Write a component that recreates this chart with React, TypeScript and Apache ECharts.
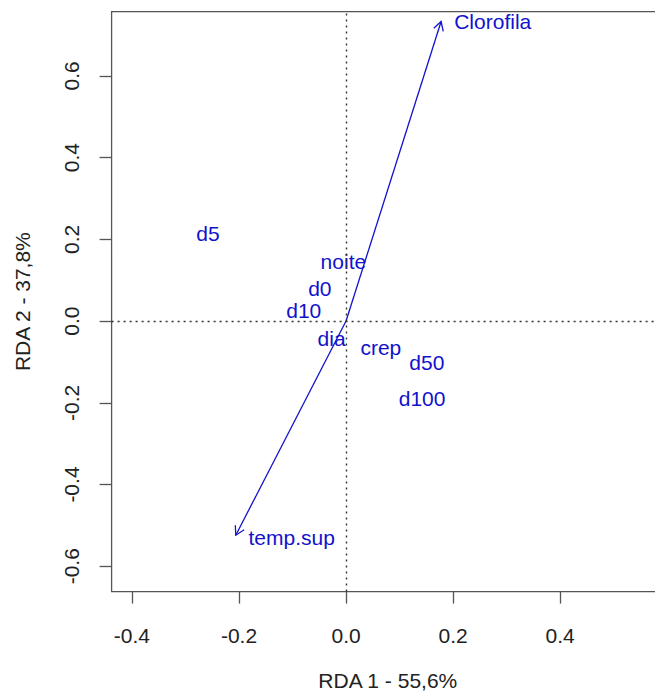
import React, { useEffect, useRef } from "react";
import * as echarts from "echarts";

// Site / sample scores (label centres)
const siteNames = ["d5", "noite", "d0", "d10", "dia", "crep", "d50", "d100"];
const siteX = [-0.258, -0.005, -0.049, -0.079, -0.027, 0.065, 0.151, 0.142];
const siteY = [0.214, 0.146, 0.079, 0.026, -0.043, -0.064, -0.102, -0.19];

// Environmental biplot arrows (tips) and their label centres
const envNames = ["Clorofila", "temp.sup"];
const envX = [0.1776, -0.206];
const envY = [0.733, -0.524];
const envLabelX = [0.274, -0.1015];
const envLabelY = [0.734, -0.529];

// Axes
const xTicks = [-0.4, -0.2, 0.0, 0.2, 0.4];
const yTicks = [-0.6, -0.4, -0.2, 0.0, 0.2, 0.4, 0.6];
const xName = "RDA 1 - 55,6%";
const yName = "RDA 2 - 37,8%";
const xMin = -0.438;
const xMax = 0.594;
const yMin = -0.662;
const yMax = 0.757;

const BLUE = "#1212cc";
const AXIS = "#555555";
const FONT = "Liberation Sans, Arial, sans-serif";
const FS = 21;

export default function App() {
  const ref = useRef<HTMLDivElement>(null);

  useEffect(() => {
    if (!ref.current) return;
    const chart = echarts.init(ref.current, undefined, { renderer: "svg" });

    const arrowData = envX.map((x, i) => [0, 0, x, envY[i]]);

    const labelCfg = {
      show: true,
      position: "inside",
      formatter: (p: any) => p.name,
      fontSize: FS,
      color: BLUE,
      fontFamily: FONT,
      opacity: 1,
    };

    const option: any = {
      animation: false,
      backgroundColor: "#ffffff",
      grid: {
        left: 111.6,
        top: 11.7,
        right: 16,
        bottom: 100.4,
        show: true,
        borderColor: AXIS,
        borderWidth: 1.3,
        backgroundColor: "transparent",
        containLabel: false,
        outerBoundsMode: "none",
      },
      xAxis: {
        type: "value",
        min: xMin,
        max: xMax,
        name: xName,
        nameLocation: "middle",
        nameGap: 78,
        nameTextStyle: { fontSize: FS, color: "#222", fontFamily: FONT },
        axisLine: { show: false, onZero: false },
        splitLine: { show: false },
        axisTick: {
          show: true,
          length: 12,
          customValues: xTicks,
          lineStyle: { color: AXIS, width: 1.3 },
        },
        axisLabel: {
          customValues: xTicks,
          margin: 33,
          fontSize: FS,
          color: "#222",
          fontFamily: FONT,
          formatter: (v: number) => v.toFixed(1),
        },
      },
      yAxis: {
        type: "value",
        min: yMin,
        max: yMax,
        name: yName,
        nameLocation: "middle",
        nameRotate: 90,
        nameGap: 79,
        nameTextStyle: { fontSize: FS, color: "#222", fontFamily: FONT },
        axisLine: { show: false, onZero: false },
        splitLine: { show: false },
        axisTick: {
          show: true,
          length: 12,
          customValues: yTicks,
          lineStyle: { color: AXIS, width: 1.3 },
        },
        axisLabel: {
          customValues: yTicks,
          rotate: 90,
          margin: 30,
          fontSize: FS,
          color: "#222",
          fontFamily: FONT,
          formatter: (v: number) => v.toFixed(1),
        },
      },
      series: [
        {
          type: "scatter",
          symbolSize: 1,
          itemStyle: { color: "rgba(0,0,0,0)", opacity: 1 },
          data: siteNames.map((n, i) => ({ name: n, value: [siteX[i], siteY[i]] })),
          label: labelCfg,
          markLine: {
            silent: true,
            symbol: ["none", "none"],
            label: { show: false },
            lineStyle: { type: [2, 4], color: "#333", width: 1.4 },
            data: [{ xAxis: 0 }, { yAxis: 0 }],
          },
          z: 3,
        },
        {
          type: "scatter",
          symbolSize: 1,
          itemStyle: { color: "rgba(0,0,0,0)", opacity: 1 },
          data: envNames.map((n, i) => ({ name: n, value: [envLabelX[i], envLabelY[i]] })),
          label: labelCfg,
          z: 3,
        },
        {
          type: "custom",
          data: arrowData,
          encode: { x: [0, 2], y: [1, 3] },
          z: 4,
          renderItem: (params: any, api: any) => {
            const p0 = api.coord([api.value(0), api.value(1)]);
            const p1 = api.coord([api.value(2), api.value(3)]);
            const ang = Math.atan2(p1[1] - p0[1], p1[0] - p0[0]);
            const L = 10;
            const a = Math.PI / 6;
            const h1 = [p1[0] - L * Math.cos(ang - a), p1[1] - L * Math.sin(ang - a)];
            const h2 = [p1[0] - L * Math.cos(ang + a), p1[1] - L * Math.sin(ang + a)];
            return {
              type: "group",
              children: [
                {
                  type: "line",
                  shape: { x1: p0[0], y1: p0[1], x2: p1[0], y2: p1[1] },
                  style: { stroke: BLUE, lineWidth: 1.3 },
                },
                {
                  type: "polyline",
                  shape: { points: [h1, p1, h2] },
                  style: { stroke: BLUE, fill: "none", lineWidth: 1.3 },
                },
              ],
            };
          },
        },
      ],
    };

    chart.setOption(option);
    return () => chart.dispose();
  }, []);

  return (
    <div
      style={{
        position: "fixed",
        left: 0,
        top: 0,
        width: 655,
        height: 692,
        overflow: "hidden",
        background: "#fff",
      }}
    >
      <div ref={ref} style={{ width: 680, height: 692 }} />
    </div>
  );
}
